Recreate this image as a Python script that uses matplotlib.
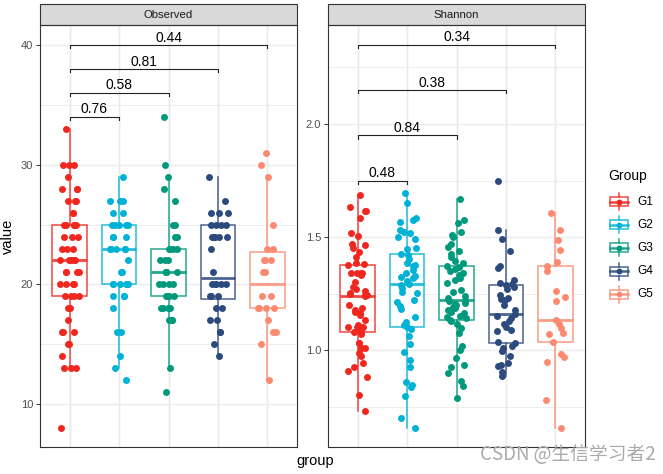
import numpy as np
import matplotlib.pyplot as plt
from matplotlib.patches import Rectangle

plt.rcParams['font.family'] = ['Liberation Sans', 'DejaVu Sans']

groups = ["G1", "G2", "G3", "G4", "G5"]
colors = ["#F0271F", "#00B2D6", "#00997B", "#2C4A7E", "#FA8B70"]

# --- Observed richness (integer values) ---
obs_g1 = [8, 13, 13, 13, 14, 15, 15, 16, 16, 16, 17, 18, 18, 19, 19, 19, 19,
          20, 20, 20, 20, 21, 21, 21, 21, 22, 22, 22, 22, 22, 23, 23, 23,
          24, 24, 24, 25, 25, 25, 25, 25, 26, 26, 27, 27, 27, 28, 28, 28,
          29, 30, 30, 30, 33]
obs_g2 = [12, 13, 14, 16, 16, 18, 19, 19, 19, 20, 20, 20, 20, 20, 20, 21, 21,
          22, 23, 23, 23, 23, 23, 24, 24, 24, 25, 25, 25, 25, 25, 26, 26,
          27, 27, 27, 29]
obs_g3 = [11, 13, 17, 17, 17, 18, 18, 18, 18, 19, 19, 19, 19, 20, 20, 20, 20,
          21, 21, 21, 21, 21, 22, 22, 22, 23, 23, 23, 23, 24, 24, 25, 25,
          27, 28, 29, 30, 34]
obs_g4 = [14, 15, 16, 16, 17, 17, 18, 18, 19, 19, 19, 20, 20, 20, 20, 20, 21,
          23, 24, 24, 24, 24, 24, 25, 25, 25, 25, 26, 26, 26, 27, 29]
obs_g5 = [12, 15, 16, 16, 17, 18, 18, 18, 18, 19, 19, 21, 21, 22, 22, 22,
          23, 23, 25, 29, 30, 31]

# --- Shannon index ---
sha_g1 = [0.730, 0.799, 0.882, 0.907, 0.926, 0.941, 0.975, 0.985, 1.007, 1.007,
          1.007, 1.030, 1.030, 1.070, 1.078, 1.081, 1.093, 1.103, 1.103, 1.103,
          1.111, 1.133, 1.155, 1.166, 1.168, 1.177, 1.188, 1.199, 1.239, 1.242,
          1.245, 1.248, 1.251, 1.263, 1.269, 1.280, 1.303, 1.332, 1.339, 1.342,
          1.342, 1.342, 1.375, 1.379, 1.386, 1.410, 1.432, 1.450, 1.465, 1.469,
          1.504, 1.516, 1.583, 1.615, 1.616, 1.634, 1.686]
sha_g2 = [0.653, 0.700, 0.798, 0.838, 0.845, 0.860, 0.926, 0.956, 0.993, 1.025,
          1.062, 1.092, 1.102, 1.111, 1.125, 1.148, 1.181, 1.195, 1.214, 1.221,
          1.251, 1.258, 1.273, 1.288, 1.291, 1.305, 1.317, 1.322, 1.327, 1.339,
          1.352, 1.372, 1.378, 1.386, 1.401, 1.420, 1.426, 1.446, 1.450, 1.490,
          1.501, 1.516, 1.524, 1.531, 1.566, 1.575, 1.586, 1.652, 1.693]
sha_g3 = [0.786, 0.842, 0.863, 0.897, 0.924, 0.934, 0.963, 1.000, 1.018, 1.074,
          1.098, 1.115, 1.128, 1.134, 1.140, 1.145, 1.150, 1.162, 1.170, 1.177,
          1.185, 1.192, 1.199, 1.205, 1.210, 1.215, 1.221, 1.229, 1.240, 1.258,
          1.265, 1.295, 1.310, 1.317, 1.330, 1.339, 1.350, 1.360, 1.368, 1.373,
          1.384, 1.395, 1.413, 1.425, 1.440, 1.457, 1.470, 1.499, 1.510, 1.523,
          1.561, 1.577, 1.668]
sha_g4 = [0.885, 0.905, 0.928, 0.934, 0.941, 0.972, 0.997, 1.009, 1.020, 1.031,
          1.036, 1.084, 1.090, 1.103, 1.115, 1.130, 1.140, 1.150, 1.159, 1.177,
          1.198, 1.220, 1.227, 1.232, 1.244, 1.272, 1.280, 1.288, 1.292, 1.295,
          1.310, 1.362, 1.373, 1.438, 1.491, 1.531, 1.749]
sha_g5 = [0.656, 0.779, 0.946, 0.968, 0.984, 1.034, 1.073, 1.077, 1.096, 1.113,
          1.134, 1.217, 1.236, 1.261, 1.350, 1.373, 1.391, 1.441, 1.486, 1.530,
          1.608]

# pairwise comparisons (G1 vs others)
pairs = [(1, 2), (1, 3), (1, 4), (1, 5)]
obs_bracket_y = [34, 36, 38, 40]
obs_pvals = ["0.76", "0.58", "0.81", "0.44"]
sha_bracket_y = [1.75, 1.95, 2.15, 2.35]
sha_pvals = ["0.48", "0.84", "0.38", "0.34"]

W, H = 663, 474
fig = plt.figure(figsize=(W / 100, H / 100), dpi=100)

def px_axes(x0, x1, ytop, ybot):
    return fig.add_axes([x0 / W, 1 - ybot / H, (x1 - x0) / W, (ybot - ytop) / H])

rng = np.random.default_rng(3)


def panel(ax, data, title, ylim, yticks, yminor, ticklabels, brk_y, pvals):
    ax.set_xlim(0.4, 5.6)
    ax.set_ylim(*ylim)
    ax.set_axisbelow(True)
    ax.set_xticks(range(1, 6))
    ax.set_yticks(yticks)
    ax.set_yticklabels(ticklabels)
    ax.set_yticks(yminor, minor=True)
    ax.grid(which='major', color='#EBEBEB', lw=1.0)
    ax.grid(which='minor', axis='y', color='#EBEBEB', lw=0.6)
    ax.tick_params(axis='x', length=0, labelbottom=False)
    ax.tick_params(axis='y', which='major', length=3, color='#333333',
                   labelcolor='#4D4D4D', labelsize=8, pad=2, width=0.7)
    ax.tick_params(axis='y', which='minor', length=0)
    for s in ax.spines.values():
        s.set_color('#333333')
        s.set_linewidth(0.8)

    bp = ax.boxplot(data, positions=range(1, 6), widths=0.7, whis=1.5,
                    showfliers=False, showcaps=False, patch_artist=True)
    for i, c in enumerate(colors):
        bp['boxes'][i].set(facecolor='white', edgecolor=c, alpha=0.85, lw=1.1, zorder=2)
        bp['medians'][i].set(color=c, alpha=0.85, lw=2.0, zorder=2.1)
        for w in bp['whiskers'][2 * i:2 * i + 2]:
            w.set(color=c, alpha=0.85, lw=1.1, zorder=2)

    for i, vals in enumerate(data):
        xj = i + 1 + rng.uniform(-0.2, 0.2, len(vals))
        ax.scatter(xj, vals, s=25, color=colors[i], lw=0, zorder=3)

    tip = 0.008 * (ylim[1] - ylim[0])
    for (a, b), y, p in zip(pairs, brk_y, pvals):
        ax.plot([a, a, b, b], [y - tip, y, y, y - tip], color='#222222', lw=0.8, zorder=4)
        ax.annotate(p, xy=((a + b) / 2, y), xytext=(0, 0.3), textcoords='offset points',
                    ha='center', va='bottom', fontsize=10, color='black')

    # facet strip
    strip_h = 21 / 422
    ax.add_patch(Rectangle((0, 1), 1, strip_h, transform=ax.transAxes, clip_on=False,
                           facecolor='#D9D9D9', edgecolor='#333333', lw=0.8))
    ax.text(0.5, 1 + strip_h / 2, title, transform=ax.transAxes, ha='center',
            va='center', fontsize=8.2, color='#1A1A1A')


ax1 = px_axes(40, 297, 25, 447)
panel(ax1, [obs_g1, obs_g2, obs_g3, obs_g4, obs_g5], "Observed", (6.42, 41.67),
      [10, 20, 30, 40], [15, 25, 35], ["10", "20", "30", "40"], obs_bracket_y, obs_pvals)

ax2 = px_axes(328, 585, 25, 447)
panel(ax2, [sha_g1, sha_g2, sha_g3, sha_g4, sha_g5], "Shannon", (0.571, 2.438),
      [1.0, 1.5, 2.0], [0.75, 1.25, 1.75, 2.25], ["1.0", "1.5", "2.0"],
      sha_bracket_y, sha_pvals)

fig.text(8 / W, 1 - 236 / H, "value", rotation=90, ha='center', va='center', fontsize=10.5)
fig.text(315 / W, 1 - 461 / H, "group", ha='center', va='center', fontsize=10.5)

# legend drawn on an overlay in pixel coordinates
lax = fig.add_axes([0, 0, 1, 1], facecolor='none')
lax.set_xlim(0, W)
lax.set_ylim(H, 0)
lax.axis('off')
lax.text(608, 176, "Group", ha='left', va='center', fontsize=10)
for i, (g, c) in enumerate(zip(groups, colors)):
    yc = 201.7 + i * 23.1
    lax.add_patch(Rectangle((610, yc - 4.5), 18, 9, fill=False, edgecolor=c,
                            alpha=0.85, lw=1.1))
    lax.plot([619, 619], [yc - 4.5, yc - 8.5], color=c, alpha=0.85, lw=1.1)
    lax.plot([619, 619], [yc + 4.5, yc + 8.5], color=c, alpha=0.85, lw=1.1)
    lax.plot([610, 628], [yc, yc], color=c, alpha=0.85, lw=1.8)
    lax.scatter([619], [yc], s=18, color=c, lw=0, zorder=3)
    lax.text(637, yc, g, ha='left', va='center', fontsize=8.6)

lax.text(656, 455, "CSDN @生信学习者2", ha='right', va='center', fontsize=13.5,
         color='#AAAAAA', family=['Noto Sans CJK SC', 'DejaVu Sans'])

fig.savefig("out.png", dpi=100)
